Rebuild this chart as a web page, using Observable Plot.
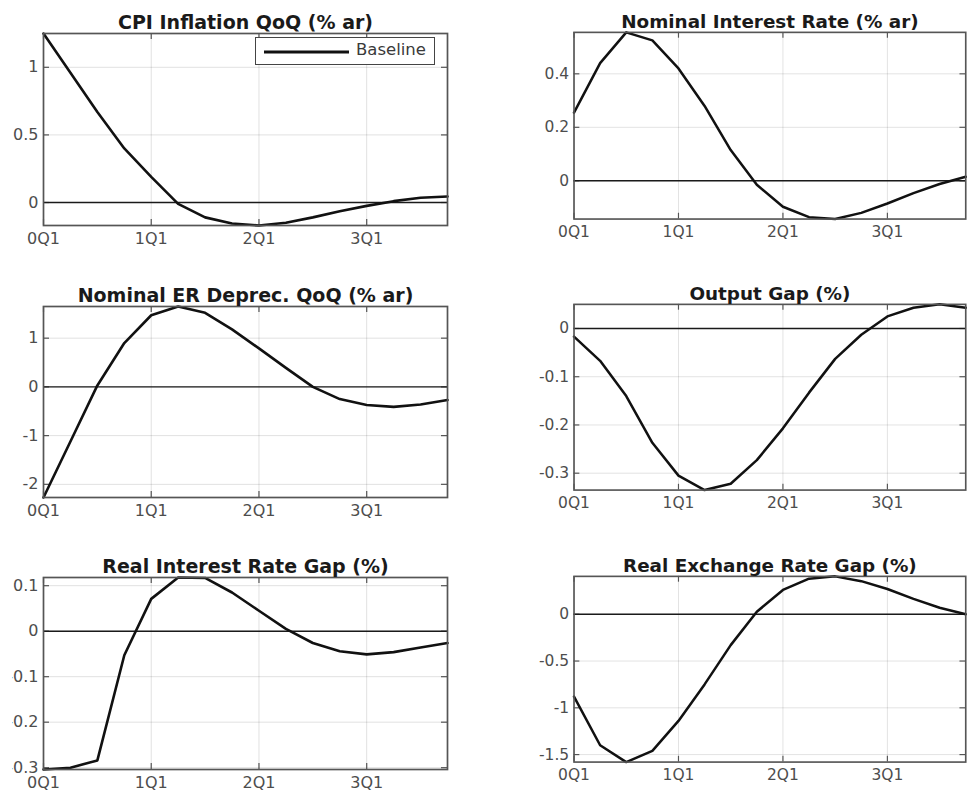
<!DOCTYPE html>
<html>
<head>
<meta charset="utf-8">
<script src="https://cdn.jsdelivr.net/npm/d3@7"></script>
<script src="https://cdn.jsdelivr.net/npm/@observablehq/plot@0.6"></script>
<style>
  html, body { margin: 0; padding: 0; width: 973px; height: 795px; overflow: hidden; background: #fff; }
  #wrap { position: relative; width: 973px; height: 795px; overflow: hidden; background: #fff; }
  .panel { position: absolute; }
  .legend { position: absolute; left: 255px; top: 37px; width: 180px; height: 28px; box-sizing: border-box;
            border: 1.3px solid #444; background: #fff; font-family: "DejaVu Sans", sans-serif; font-size: 16.5px; color: #3a3a3a; }
  .legend svg { position: absolute; left: 0; top: 0; }
  .legend span { position: absolute; left: 100px; top: 2px; }
</style>
</head>
<body>
<div id="wrap"></div>
<script>
// ---- data ----
const quarters = [0, 1, 2, 3, 4, 5, 6, 7, 8, 9, 10, 11, 12, 13, 14, 15];
const xTicks = [0, 4, 8, 12];
const xTickLabels = ["0Q1", "1Q1", "2Q1", "3Q1"];

const titles = [
  "CPI Inflation QoQ (% ar)",
  "Nominal Interest Rate (% ar)",
  "Nominal ER Deprec. QoQ (% ar)",
  "Output Gap (%)",
  "Real Interest Rate Gap (%)",
  "Real Exchange Rate Gap (%)"
];

const cpiInflation = [1.25, 0.96, 0.67, 0.40, 0.19, -0.01, -0.11, -0.155, -0.17, -0.15, -0.11, -0.065, -0.025, 0.01, 0.035, 0.045];
const nominalRate  = [0.255, 0.44, 0.555, 0.525, 0.42, 0.28, 0.115, -0.015, -0.097, -0.136, -0.143, -0.12, -0.085, -0.046, -0.012, 0.015];
const erDeprec     = [-2.27, -1.12, 0.03, 0.9, 1.47, 1.65, 1.52, 1.18, 0.79, 0.39, 0.0, -0.25, -0.37, -0.41, -0.36, -0.27];
const outputGap    = [-0.017, -0.067, -0.14, -0.237, -0.305, -0.335, -0.322, -0.273, -0.207, -0.133, -0.063, -0.013, 0.025, 0.043, 0.05, 0.043];
const realRateGap  = [-0.304, -0.3, -0.284, -0.053, 0.071, 0.118, 0.117, 0.085, 0.045, 0.005, -0.026, -0.044, -0.051, -0.046, -0.036, -0.026];
const realExGap    = [-0.88, -1.4, -1.58, -1.46, -1.14, -0.75, -0.33, 0.027, 0.26, 0.38, 0.405, 0.354, 0.27, 0.165, 0.07, 0.0];

const yTicksCpi = [0, 0.5, 1];
const yTicksRate = [0, 0.2, 0.4];
const yTicksEr = [-2, -1, 0, 1];
const yTicksGap = [-0.3, -0.2, -0.1, 0];
const yTicksRrg = [-0.3, -0.2, -0.1, 0, 0.1];
const yTicksReg = [-1.5, -1, -0.5, 0];

const legendLabel = "Baseline";

// ---- layout ----
const panels = [
  {title: titles[0], values: cpiInflation, yTicks: yTicksCpi, left: 43, top: 33, w: 404, h: 192},
  {title: titles[1], values: nominalRate,  yTicks: yTicksRate, left: 575, top: 33, w: 405, h: 193},
  {title: titles[2], values: erDeprec,     yTicks: yTicksEr,  left: 43, top: 306, w: 404, h: 191},
  {title: titles[3], values: outputGap,    yTicks: yTicksGap, left: 575, top: 305, w: 405, h: 192},
  {title: titles[4], values: realRateGap,  yTicks: yTicksRrg, left: 43, top: 577, w: 404, h: 192, clipLeft: 12},
  {title: titles[5], values: realExGap,    yTicks: yTicksReg, left: 575, top: 577, w: 405, h: 192}
];

const wrap = document.getElementById("wrap");
const TL = 6; // inward tick length

for (const p of panels) {
  const mR = 8, mT = 34, mB = 30;
  const svgLeft = p.clipLeft !== undefined ? p.clipLeft : p.left - 45;
  const mL = p.left - svgLeft;
  const data = quarters.map((q, i) => ({q, v: p.values[i]}));
  const chart = Plot.plot({
    width: p.w + mL + mR,
    height: p.h + mT + mB,
    marginLeft: mL, marginRight: mR, marginTop: mT, marginBottom: mB,
    style: {fontFamily: "DejaVu Sans, sans-serif", fontSize: "16px", color: "#4d4d4d", background: "transparent", overflow: "hidden"},
    x: {domain: [quarters[0], quarters[quarters.length - 1]], label: null},
    y: {domain: d3.extent(p.values), label: null},
    marks: [
      Plot.gridX(xTicks, {stroke: "#000", strokeOpacity: 0.12}),
      Plot.gridY(p.yTicks, {stroke: "#000", strokeOpacity: 0.12}),
      // inward ticks on all four sides (MATLAB box style)
      Plot.tickY(p.yTicks, {y: d => d, insetRight: p.w - TL, stroke: "#555", strokeWidth: 1.2}),
      Plot.tickY(p.yTicks, {y: d => d, insetLeft: p.w - TL, stroke: "#555", strokeWidth: 1.2}),
      Plot.tickX(xTicks, {x: d => d, insetTop: p.h - TL, stroke: "#555", strokeWidth: 1.2}),
      Plot.tickX(xTicks, {x: d => d, insetBottom: p.h - TL, stroke: "#555", strokeWidth: 1.2}),
      Plot.ruleY([0], {stroke: "#1a1a1a", strokeWidth: 1.4}),
      Plot.line(data, {x: "q", y: "v", stroke: "#111", strokeWidth: 2.6}),
      Plot.frame({stroke: "#555", strokeWidth: 1.7}),
      Plot.axisX(xTicks, {tickSize: 0, tickPadding: 7, label: null, tickFormat: d => xTickLabels[xTicks.indexOf(d)]}),
      Plot.axisY(p.yTicks, {tickSize: 0, tickPadding: 5, label: null, tickFormat: d => String(d)}),
      Plot.text([p.title], {text: d => d, frameAnchor: "top", lineAnchor: "bottom", dy: -5, fontSize: 19, fontWeight: "bold", fill: "#1a1a1a"})
    ]
  });
  const div = document.createElement("div");
  div.className = "panel";
  div.style.left = svgLeft + "px";
  div.style.top = (p.top - mT) + "px";
  div.appendChild(chart);
  wrap.appendChild(div);
}

// legend for the first panel
const leg = document.createElement("div");
leg.className = "legend";
leg.innerHTML = `<svg width="180" height="28"><line x1="8" x2="93" y1="14" y2="14" stroke="#111" stroke-width="2.8"/></svg><span>${legendLabel}</span>`;
wrap.appendChild(leg);
</script>
</body>
</html>
